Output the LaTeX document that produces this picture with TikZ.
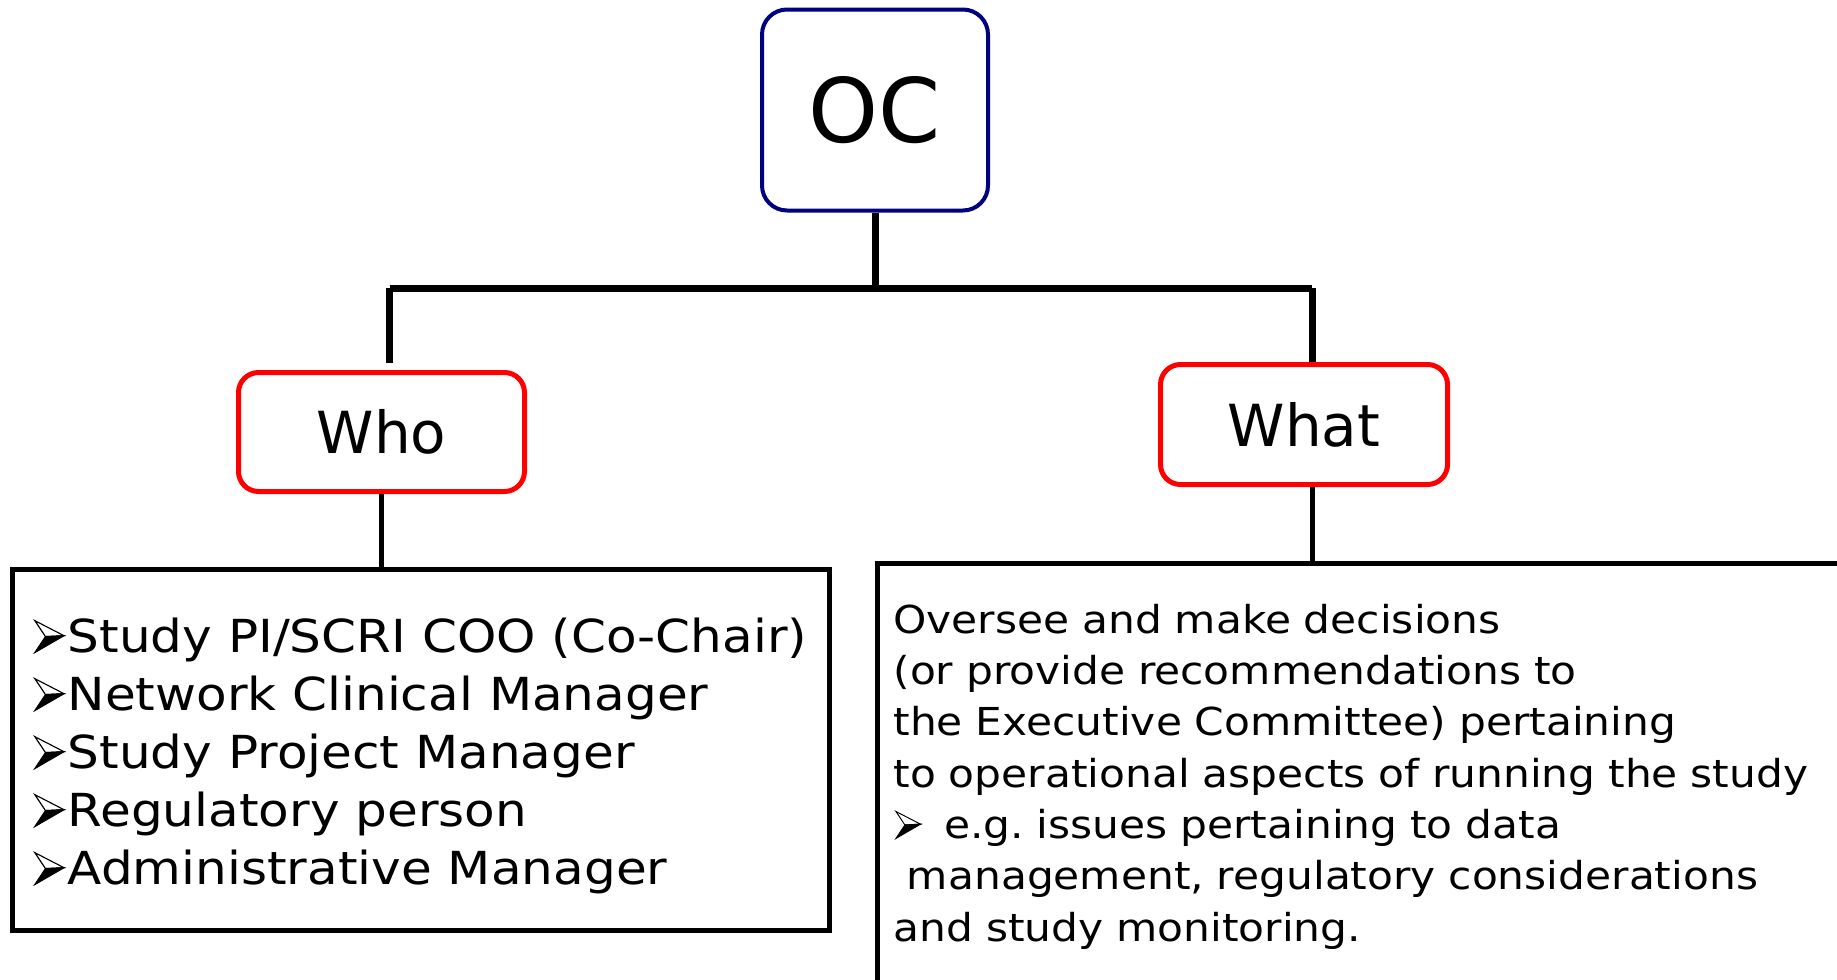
\documentclass[tikz,border=0pt]{standalone}
\usepackage{fontspec}
\setmainfont{DejaVu Sans}
\newfontfamily\listfont[FakeStretch=1.1]{DejaVu Sans}
\definecolor{ocblue}{RGB}{0,0,128}
\definecolor{boxred}{RGB}{255,0,0}
\frenchspacing
% 3D arrowhead bullet, sized to the current font
\newcommand{\tipmark}{\tikz[x=1em,y=1em,baseline=0pt,line width=0.025em,line join=miter]{%
  \filldraw[fill=white] (0,0.7) -- (0.64,0.37) -- (0.233,0.35) -- cycle;
  \filldraw[fill=black] (0.233,0.35) -- (0.64,0.37) -- (0,0) -- cycle;}}

\begin{document}
\begin{tikzpicture}
  [x=1pt,y=-1pt,
   headbox/.style={draw=ocblue,line width=4pt,rounded corners=25pt,minimum width=226pt,minimum height=201pt,font=\fontsize{89}{100}\selectfont},
   askbox/.style={draw=boxred,line width=5pt,rounded corners=20pt,minimum width=286pt,minimum height=119pt,font=\fontsize{58}{70}\selectfont},
   listbox/.style={draw,line width=5pt,align=left},
   bar/.style={line width=7pt},
   stem/.style={line width=5pt}]
  \useasboundingbox (0,0) rectangle (1837,980);
  \clip (0,0) rectangle (1837,980);
  \node[headbox] (oc) at (875,110) {\raisebox{-4pt}{OC}};
  \node[askbox] (who) at (381.5,432) {Who};
  \node[askbox,minimum width=287pt,minimum height=120pt] (what) at (1304,424.5) {What};
  \node[listbox,minimum width=816.5pt,minimum height=360.5pt,
        font=\listfont\fontsize{45.5}{58}\selectfont] (members) at (420.75,749.75)
    {\rule{0pt}{47pt}\tipmark\hspace{0.07em}Study PI/SCRI COO (Co-Chair)\\
     \tipmark\hspace{0.07em}Network Clinical Manager\\
     \tipmark\hspace{0.07em}Study Project Manager\\
     \tipmark\hspace{0.07em}Regulatory person\\
     \tipmark\hspace{0.07em}Administrative Manager};
  \node[listbox,anchor=north west,text width=960pt,inner xsep=16.5pt,minimum height=427pt,
        font=\listfont\fontsize{38.5}{51.3}\selectfont] (duties) at (874.5,560.5)
    {Oversee and make decisions\\
     (or provide recommendations to\\
     the Executive Committee) pertaining\\
     to operational aspects of running the study\\
     \hspace*{0.05em}\tipmark\hspace{0.6em}e.g. issues pertaining to data\\
     \hspace*{0.35em}management, regulatory considerations\\
     and study monitoring.};
  \coordinate (barl) at (389.5,288);
  \coordinate (barr) at (1312,288);
 \path[draw,bar]
    (oc.south) -- (oc.south |- barl)
    (barl) -- (barr)
    (barl) -- ([yshift=7pt]barl |- who.north)
    (barr) -- (barr |- what.north)
    ;
 \path[draw,stem]
    (who.south) -- (who.south |- members.north)
    (barr |- what.south) -- ([yshift=-4pt]barr |- duties.north)
    ;
\end{tikzpicture}
\end{document}
